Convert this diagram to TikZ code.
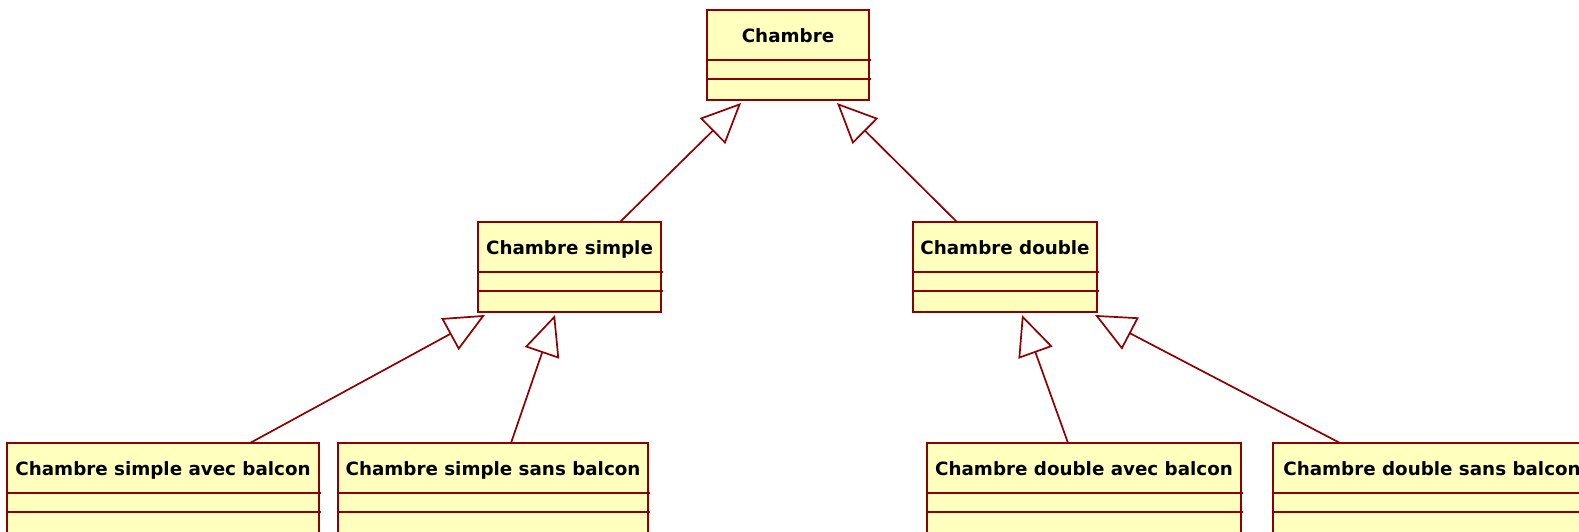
\documentclass[tikz,border=0pt]{standalone}
\usepackage{fontspec}
\setmainfont{DejaVu Sans}
\usetikzlibrary{calc,arrows.meta}

\definecolor{umlline}{RGB}{140,0,0}
\definecolor{umlfill}{RGB}{255,255,190}

\tikzset{
  umlclass/.style={draw=umlline, fill=umlfill, line width=1.7pt,
    inner xsep=0pt, inner ysep=0pt, outer sep=0pt, anchor=north west,
    text height=32pt, text depth=58pt,
    font=\bfseries\fontsize{18.3}{20}\selectfont},
  umlsep/.style={draw=umlline, line width=1.7pt},
  inherit/.style={draw=umlline, line width=1.7pt,
    -{Triangle[open, length=40pt, width=36pt, fill=white]}}
}

\begin{document}
\begin{tikzpicture}[x=1pt,y=-1pt]
\path[use as bounding box, fill=white] (0,0) rectangle (1579,531);

% classes
\node[umlclass, minimum width=162pt] (ch) at (707,10) {Chambre};
\node[umlclass, minimum width=183pt] (cs) at (478,222) {Chambre simple};
\node[umlclass, minimum width=184pt] (cd) at (913,222) {Chambre double};
\node[umlclass, minimum width=312pt] (csab) at (7,443) {Chambre simple avec balcon};
\node[umlclass, minimum width=310pt] (cssb) at (338,443) {Chambre simple sans balcon};
\node[umlclass, minimum width=314pt] (cdab) at (927,443) {Chambre double avec balcon};
\node[umlclass, minimum width=318pt] (cdsb) at (1273,443) {Chambre double sans balcon};

% compartments
\foreach \c in {ch,cs,cd,csab,cssb,cdab,cdsb} {
  \draw[umlsep] ($(\c.north west)+(0,50)$) -- ($(\c.north east)+(2,50)$);
  \draw[umlsep] ($(\c.north west)+(0,69)$) -- ($(\c.north east)+(2,69)$);
}

% arrow tips under the parents
\coordinate (ch1) at ($(ch.south west)+(34,3)$);
\coordinate (ch2) at ($(ch.south west)+(130,3)$);
\coordinate (cs1) at ($(cs.south west)+(7,3)$);
\coordinate (cs2) at ($(cs.south west)+(77,3)$);
\coordinate (cd1) at ($(cd.south west)+(109,3)$);
\coordinate (cd2) at ($(cd.south west)+(182,3)$);

% generalisations
\draw[inherit] ($(cs.north west)+(142,0)$) -- (ch1);
\draw[inherit] ($(cd.north west)+(44,0)$) -- (ch2);
\draw[inherit] ($(csab.north west)+(243,0)$) -- (cs1);
\draw[inherit] ($(cssb.north west)+(173,0)$) -- (cs2);
\draw[inherit] ($(cdab.north west)+(141,0)$) -- (cd1);
\draw[inherit] ($(cdsb.north west)+(67,0)$) -- (cd2);
\end{tikzpicture}
\end{document}
